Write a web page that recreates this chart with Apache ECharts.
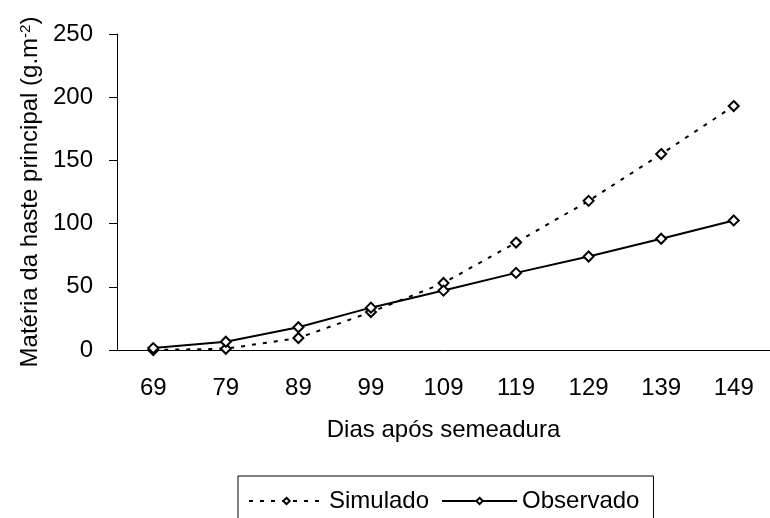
<!DOCTYPE html>
<html>
<head>
<meta charset="utf-8">
<script src="https://cdn.jsdelivr.net/npm/echarts@6/dist/echarts.min.js"></script>
<style>
  html, body { margin: 0; padding: 0; background: #fff; }
  #chart { width: 770px; height: 518px; }
</style>
</head>
<body>
<div id="chart"></div>
<script>
const days = ['69', '79', '89', '99', '109', '119', '129', '139', '149'];
// g.m-2
const simulado = [0, 1, 9.5, 30, 53, 85, 118, 155, 193];
const observado = [1.5, 6.5, 18, 33.5, 47, 61, 74, 88, 102.5];
const yTicks = [0, 50, 100, 150, 200, 250];

const font = 'Liberation Sans, Arial, sans-serif';
const fontSize = 24;
const chart = echarts.init(document.getElementById('chart'));

const marker = {
  symbol: 'diamond',
  symbolSize: 10,
  itemStyle: { color: '#fff', borderColor: '#000', borderWidth: 2 }
};

chart.setOption({
  animation: false,
  backgroundColor: '#fff',
  textStyle: { fontFamily: font, color: '#000' },
  grid: { left: 117, right: -1, top: 34, bottom: 168 },
  legend: {
    left: 238,
    top: 476,
    padding: [13, 14, 40, 10],
    borderColor: '#000',
    borderWidth: 1,
    itemWidth: 75,
    itemHeight: 8,
    itemGap: 12,
    textStyle: { fontSize: fontSize, color: '#000', fontFamily: font },
    data: ['Simulado', 'Observado']
  },
  xAxis: {
    type: 'category',
    data: days,
    boundaryGap: true,
    name: 'Dias após semeadura',
    nameLocation: 'middle',
    nameGap: 68,
    nameTextStyle: { fontSize: fontSize, color: '#000' },
    axisLine: { lineStyle: { color: '#000', width: 1 } },
    axisTick: { length: 7, lineStyle: { color: '#000' } },
    axisLabel: { fontSize: fontSize, color: '#000', margin: 26 },
    splitLine: { show: false }
  },
  yAxis: {
    type: 'value',
    min: yTicks[0],
    max: yTicks[yTicks.length - 1],
    interval: 50,
    name: '{a|Matéria da haste principal (g.m}{s|-2}{a|)}',
    nameLocation: 'middle',
    nameGap: 73,
    nameTextStyle: {
      rich: {
        a: { fontSize: fontSize, color: '#000', fontFamily: font },
        s: { fontSize: 15, color: '#000', fontFamily: font, verticalAlign: 'top' }
      }
    },
    axisLine: { show: true, lineStyle: { color: '#000', width: 1 } },
    axisTick: { show: true, length: 8, lineStyle: { color: '#000' } },
    axisLabel: { fontSize: fontSize, color: '#000', margin: 24 },
    splitLine: { show: false }
  },
  series: [
    Object.assign({
      name: 'Simulado',
      type: 'line',
      data: simulado,
      lineStyle: { color: '#000', width: 2, type: [4, 7] }
    }, marker),
    Object.assign({
      name: 'Observado',
      type: 'line',
      data: observado,
      lineStyle: { color: '#000', width: 2 }
    }, marker)
  ]
});
</script>
</body>
</html>
